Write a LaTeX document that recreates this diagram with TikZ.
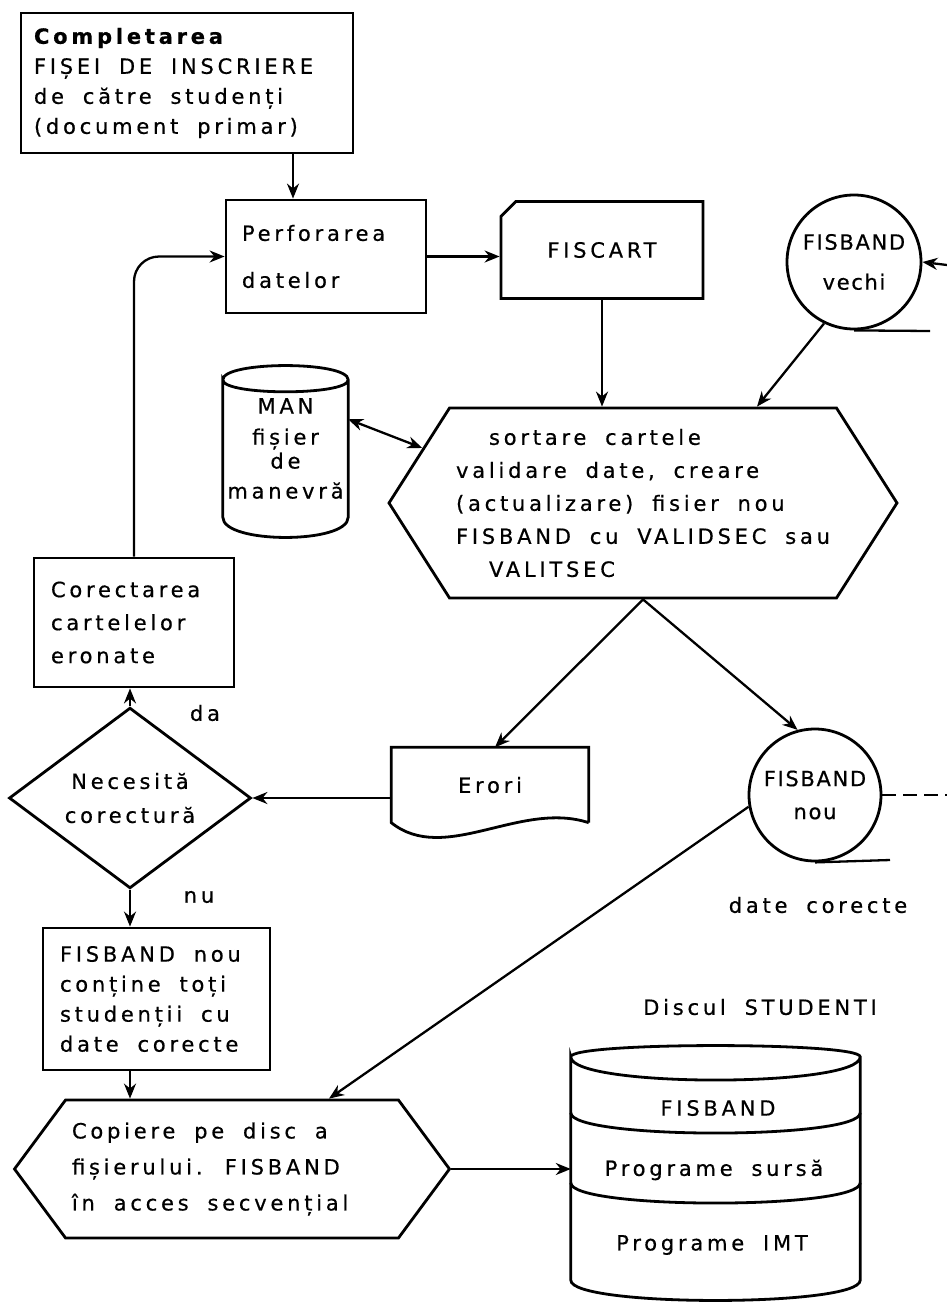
\documentclass[tikz,border=0pt]{standalone}
\usepackage{fontspec}
\setmainfont{DejaVu Sans}[LetterSpace=18, WordSpace=1.8, FakeBold=0.6]
\usepackage{tikz}
\usetikzlibrary{shapes.geometric, shapes.misc, shapes.symbols, arrows.meta}
\newcommand{\rand}[2]{\makebox[#1][l]{#2}}
\tikzset{
    contur/.style={line width=2.8pt},
    leg/.style={line width=2.3pt},
    proces/.style={draw, contur, rectangle, align=left},
    cartela/.style={draw, contur, chamfered rectangle, chamfered rectangle corners=north west, chamfered rectangle xsep=14pt},
    banda/.style={draw, contur, circle, inner sep=0pt, align=center, font=\fontsize{21}{30}\selectfont\addfontfeature{LetterSpace=8}},
    hexa/.style={draw, contur, signal, signal to=west and east, signal pointer angle=115, align=left},
    decizie/.style={draw, contur, diamond, inner sep=0pt, align=center},
    tambur/.style={rectangle, inner sep=0pt, align=center},
    docum/.style={rectangle, inner sep=0pt},
    varf/.style={-{Stealth[length=15pt,width=12pt]}}
}

\begin{document}
\begin{tikzpicture}[x=1pt,y=-1pt,every node/.style={font=\fontsize{21}{30}\selectfont}]
\useasboundingbox (0,0) rectangle (947,1304);

\node[proces, minimum width=332pt, minimum height=140pt] (fisa) at (187,83)
    {\rand{306pt}{\textbf{Completarea}}\\FIȘEI DE INSCRIERE\\de către studenți\\(document primar)};
\node[proces, minimum width=200pt, minimum height=113pt] (perf) at (326,256.5) {\rand{168pt}{Perforarea}\\[17pt]datelor};
\node[cartela, minimum width=202pt, minimum height=97pt] (fiscart) at (602,250) {FISCART};
\node[banda, minimum size=134pt] (vechi) at (854,262) {FISBAND\\[10pt]vechi};
\node[tambur, minimum width=125pt, minimum height=137pt] (man) at (285.5,448.5) {MAN\\[1pt]fișier\\[-6pt]de\\[0pt]manevră};
\node[hexa, minimum width=508pt, minimum height=190pt] (sort) at (643,503)
    {\hspace*{33pt}sortare cartele\\[3pt]validare date, creare\\[3pt](actualizare) fisier nou\\[3pt]FISBAND cu VALIDSEC sau\\[3pt]\hspace*{33pt}VALITSEC};
\node[proces, minimum width=200pt, minimum height=129pt] (corect) at (134,622.5) {\rand{166pt}{Corectarea}\\[3pt]cartelelor\\[3pt]eronate};
\node (da) at (205,713) {da};
\node[decizie, minimum width=242pt, minimum height=160pt] (necesita) at (130,798) {Necesită\\[4pt]corectură};
\node[docum, minimum width=197pt, minimum height=75pt] (erori) at (490,785) {Erori};
\node[banda, minimum size=132pt] (nou) at (815,795) {FISBAND\\[3pt]nou};
\node (nu) at (199,897) {nu};
\node (datecor) at (818,905) {date corecte};
\node[proces, minimum width=227pt, minimum height=142pt] (continut) at (156.5,999)
    {\rand{193pt}{FISBAND nou}\\conține toți\\studenții cu\\date corecte};
\node[hexa, minimum width=435pt, minimum height=138pt, signal pointer angle=107] (copiere) at (232,1169)
    {\rand{320pt}{Copiere pe disc a}\\[6pt]fișierului. FISBAND\\[6pt]în acces secvențial};
\node (discul) at (760,1007) {Discul STUDENTI};
\node[tambur, minimum width=289pt, minimum height=223pt] (disc) at (715.5,1168.5) {};
\node (dfis) at (718,1108) {FISBAND};
\node (dsursa) at (714,1170) {Programe sursă};
\node (dimt) at (712,1245) {Programe IMT};
\coordinate (inv) at (947,265);
\coordinate (outn) at (947,795);
\coordinate (vcoada) at (930,331);
\coordinate (ncoada) at (890,860);

\draw[contur] (man.north west) .. controls +(0,-19) and +(0,-19) .. (man.north east)
    .. controls +(0,16) and +(0,16) .. (man.north west) -- (man.south west)
    .. controls +(0,27) and +(0,27) .. (man.south east) -- (man.north east);
\draw[contur] (erori.south east) -- (erori.north east) -- (erori.north west) -- (erori.south west)
    .. controls +(53.5,42.5) and +(-68.5,-22.5) .. (erori.south east);
\draw[contur] (disc.north west) .. controls +(0,-15) and +(0,-15) .. (disc.north east)
    .. controls +(0,31) and +(0,31) .. (disc.north west) -- (disc.south west)
    .. controls +(0,27) and +(0,27) .. (disc.south east) -- (disc.north east);
\draw[contur] ([shift={(0,56)}]disc.north west) .. controls +(0,27) and +(0,27) .. ([shift={(0,56)}]disc.north east);
\draw[contur] ([shift={(0,126)}]disc.north west) .. controls +(0,27) and +(0,27) .. ([shift={(0,126)}]disc.north east);
\draw[leg] (vechi.south) -- (vcoada);
\draw[leg] (nou.south) -- (ncoada);

\path[varf, leg]
(fisa.south) ++(106,0) edge ([xshift=-33pt]perf.north)
(perf.east) edge (perf.east -| fiscart.west)
(fiscart.south) edge (fiscart.south |- sort.north)
(vechi.244) edge (sort.north -| 757,0)
(sort.south) edge (erori.north -| 495,0)
(sort.south) edge (nou.105)
(erori.west |- necesita.east) edge (necesita.east)
(necesita.north) edge (necesita.north |- corect.south)
(necesita.south) edge (necesita.south |- continut.north)
(necesita.south |- continut.south) edge (necesita.south |- copiere.north)
(nou.190) edge (copiere.north -| 329,0)
(copiere.east) edge (copiere.east -| disc.west)
(inv) edge[dash pattern=on 14pt off 7pt] (vechi.east);
\path[{Stealth[length=15pt,width=12pt]}-{Stealth[length=15pt,width=12pt]}, leg] (man.25) edge (sort.166);
\draw[varf, leg, rounded corners=25pt] (corect.north) |- (perf.west);
\draw[leg, dash pattern=on 14pt off 7pt] (nou.east) -- (outn);
\end{tikzpicture}
\end{document}
